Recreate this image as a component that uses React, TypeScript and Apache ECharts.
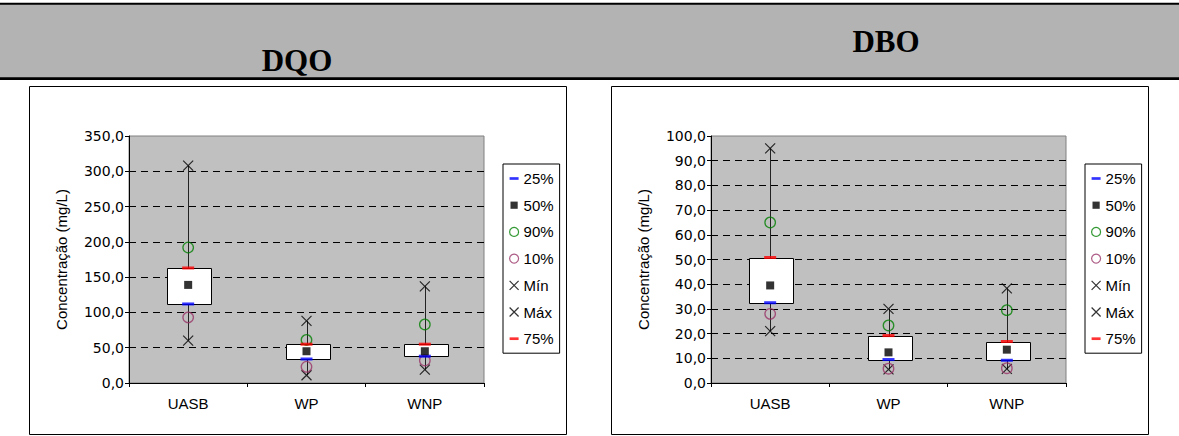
import React, { useEffect, useRef } from "react";
import * as echarts from "echarts";

const categories = ["UASB", "WP", "WNP"];

// DQO (mg/L)
const dqoMin = [60, 11, 19];
const dqoP10 = [93, 23, 32];
const dqoQ1 = [112, 34, 38];
const dqoMed = [139, 45, 45];
const dqoQ3 = [163, 55, 55];
const dqoP90 = [192, 61, 83];
const dqoMax = [308, 88, 137];

// DBO (mg/L)
const dboMin = [21, 5.5, 5.7];
const dboP10 = [28, 5.8, 6];
const dboQ1 = [32.5, 9.5, 9.2];
const dboMed = [39.5, 12.4, 13.5];
const dboQ3 = [50.8, 19.2, 16.8];
const dboP90 = [65, 23.3, 29.5];
const dboMax = [95, 30, 38.3];

const legendNames = ["25%", "50%", "90%", "10%", "Mín", "Máx", "75%"];

const FONT = "'Liberation Sans', Arial, sans-serif";
const TICKFONT = "'DejaVu Sans', Verdana, sans-serif";
const SERIF = "'Liberation Serif', 'Times New Roman', serif";

const X_PATH = "path://M0,0L10,10M10,0L0,10";

function fmt(v: number) {
  return v.toFixed(1).replace(".", ",");
}

function buildSeries(gi: number, mn: number[], p10: number[], q1: number[], med: number[], q3: number[], p90: number[], mx: number[]) {
  const boxData = categories.map((c, i) => [i, mn[i], q1[i], q3[i], mx[i]]);
  return [
    {
      type: "custom",
      name: "box" + gi,
      xAxisIndex: gi,
      yAxisIndex: gi,
      z: 2,
      data: boxData,
      encode: { x: 0, y: [1, 2, 3, 4] },
      renderItem: (params: any, api: any) => {
        const x = api.value(0);
        const pLo = api.coord([x, api.value(1)]);
        const pQ1 = api.coord([x, api.value(2)]);
        const pQ3 = api.coord([x, api.value(3)]);
        const pHi = api.coord([x, api.value(4)]);
        const w = 44;
        const cx = Math.round(pLo[0]) + 0.5;
        return {
          type: "group",
          children: [
            {
              type: "line",
              shape: { x1: cx, y1: pLo[1], x2: cx, y2: pHi[1] },
              style: { stroke: "#222", lineWidth: 1 },
            },
            {
              type: "rect",
              shape: { x: Math.round(cx - w / 2) + 0.5, y: Math.round(pQ3[1]) + 0.5, width: w, height: Math.round(pQ1[1]) - Math.round(pQ3[1]) },
              style: { fill: "#fff", stroke: "#000", lineWidth: 1 },
            },
          ],
        };
      },
    },
    { type: "scatter", name: "Mín", xAxisIndex: gi, yAxisIndex: gi, z: 3, data: mn, symbol: X_PATH, symbolSize: 10, itemStyle: { color: "transparent", borderColor: "#000", borderWidth: 1.2 } },
    { type: "scatter", name: "Máx", xAxisIndex: gi, yAxisIndex: gi, z: 3, data: mx, symbol: X_PATH, symbolSize: 10, itemStyle: { color: "transparent", borderColor: "#000", borderWidth: 1.2 } },
    { type: "scatter", name: "10%", xAxisIndex: gi, yAxisIndex: gi, z: 4, data: p10, symbol: "circle", symbolSize: 10.5, itemStyle: { color: "transparent", borderColor: "#993366", borderWidth: 1.3 } },
    { type: "scatter", name: "90%", xAxisIndex: gi, yAxisIndex: gi, z: 4, data: p90, symbol: "circle", symbolSize: 10.5, itemStyle: { color: "transparent", borderColor: "#008000", borderWidth: 1.3 } },
    { type: "scatter", name: "25%", xAxisIndex: gi, yAxisIndex: gi, z: 5, data: q1, symbol: "rect", symbolSize: [12, 3], itemStyle: { color: "#0000ff" } },
    { type: "scatter", name: "75%", xAxisIndex: gi, yAxisIndex: gi, z: 5, data: q3, symbol: "rect", symbolSize: [12, 3], itemStyle: { color: "#ff0000" } },
    { type: "scatter", name: "50%", xAxisIndex: gi, yAxisIndex: gi, z: 5, data: med, symbol: "rect", symbolSize: 8, itemStyle: { color: "#000" } },
  ];
}

const legendIcons: Record<string, any> = {
  "25%": { icon: "path://M0,0L0,0M0,3.5H10V6.5H0ZM10,10L10,10", itemStyle: { color: "#0000ff", borderWidth: 0 } },
  "50%": { icon: "path://M0,0L0,0M1,1H9V9H1ZM10,10L10,10", itemStyle: { color: "#000", borderWidth: 0 } },
  "90%": { icon: "circle", itemStyle: { color: "transparent", borderColor: "#008000", borderWidth: 1.2 } },
  "10%": { icon: "circle", itemStyle: { color: "transparent", borderColor: "#993366", borderWidth: 1.2 } },
  "Mín": { icon: "path://M1,1L9,9M9,1L1,9", itemStyle: { color: "transparent", borderColor: "#000", borderWidth: 1.2 } },
  "Máx": { icon: "path://M1,1L9,9M9,1L1,9", itemStyle: { color: "transparent", borderColor: "#000", borderWidth: 1.2 } },
  "75%": { icon: "path://M0,0L0,0M0,3.5H10V6.5H0ZM10,10L10,10", itemStyle: { color: "#ff0000", borderWidth: 0 } },
};

function makeLegend(left: number) {
  return {
    orient: "vertical",
    left,
    top: 164,
    padding: [7, 6, 7, 6],
    itemGap: 11.7,
    itemWidth: 9,
    itemHeight: 9,
    selectedMode: false,
    backgroundColor: "#fff",
    borderColor: "#000",
    borderWidth: 1,
    borderRadius: 0,
    textStyle: { color: "#000", fontSize: 15, fontFamily: FONT, lineHeight: 15 },
    data: legendNames.map((n) => ({ name: n, ...legendIcons[n] })),
  };
}

function makeYAxis(gi: number, max: number, interval: number) {
  return {
    gridIndex: gi,
    type: "value",
    min: 0,
    max,
    interval,
    name: "Concentração (mg/L)",
    nameLocation: "middle",
    nameGap: 60,
    nameTextStyle: { color: "#000", fontSize: 15, fontFamily: FONT },
    axisLine: { show: true, lineStyle: { color: "#000", width: 1 } },
    axisTick: { show: true, length: 4, lineStyle: { color: "#000", width: 1 } },
    axisLabel: { color: "#000", fontSize: 14, fontFamily: TICKFONT, margin: 5, formatter: (v: number) => fmt(v) },
    splitLine: { show: true, showMinLine: false, showMaxLine: false, lineStyle: { color: "#000", type: [7, 5], width: 1 } },
  };
}

function makeXAxis(gi: number) {
  return {
    gridIndex: gi,
    type: "category",
    data: categories,
    boundaryGap: true,
    axisLine: { show: true, lineStyle: { color: "#000", width: 1 } },
    axisTick: { show: true, length: 4, lineStyle: { color: "#000", width: 1 } },
    axisLabel: { color: "#000", fontSize: 15, fontFamily: FONT, margin: 13 },
    splitLine: { show: false },
  };
}

export default function App() {
  const ref = useRef<HTMLDivElement>(null);
  useEffect(() => {
    if (!ref.current) return;
    const chart = echarts.init(ref.current, null, { renderer: "svg" });
    chart.setOption({
      animation: false,
      backgroundColor: "#fff",
      textStyle: { fontFamily: FONT },
      graphic: [
        { type: "rect", z: -10, shape: { x: 0, y: 4, width: 1179, height: 74 }, style: { fill: "#b3b3b3" } },
        { type: "rect", z: -9, shape: { x: 0, y: 2.7, width: 1179, height: 2 }, style: { fill: "#000" } },
        { type: "rect", z: -9, shape: { x: 0, y: 77.3, width: 1179, height: 2.7 }, style: { fill: "#000" } },
        { type: "text", z: -8, x: 297, y: 60.3, style: { text: "DQO", font: `bold 31px ${SERIF}`, fill: "#000", align: "center", verticalAlign: "middle" } },
        { type: "text", z: -8, x: 886, y: 41.8, style: { text: "DBO", font: `bold 31px ${SERIF}`, fill: "#000", align: "center", verticalAlign: "middle" } },
        { type: "rect", z: -10, shape: { x: 29.5, y: 86.5, width: 537, height: 348 }, style: { fill: "#fff", stroke: "#000", lineWidth: 1 } },
        { type: "rect", z: -10, shape: { x: 611.5, y: 86.5, width: 537, height: 348 }, style: { fill: "#fff", stroke: "#000", lineWidth: 1 } },
      ],
      grid: [
        { left: 129, top: 136, width: 355, height: 247, show: true, backgroundColor: "#c0c0c0", borderColor: "#808080", borderWidth: 1 },
        { left: 711, top: 136, width: 355, height: 247, show: true, backgroundColor: "#c0c0c0", borderColor: "#808080", borderWidth: 1 },
      ],
      xAxis: [makeXAxis(0), makeXAxis(1)],
      yAxis: [makeYAxis(0, 350, 50), makeYAxis(1, 100, 10)],
      legend: [makeLegend(503), makeLegend(1085)],
      series: [
        ...buildSeries(0, dqoMin, dqoP10, dqoQ1, dqoMed, dqoQ3, dqoP90, dqoMax),
        ...buildSeries(1, dboMin, dboP10, dboQ1, dboMed, dboQ3, dboP90, dboMax),
      ],
    });
    return () => chart.dispose();
  }, []);
  return <div ref={ref} style={{ position: "absolute", left: 0, top: 0, width: 1179, height: 436 }} />;
}
